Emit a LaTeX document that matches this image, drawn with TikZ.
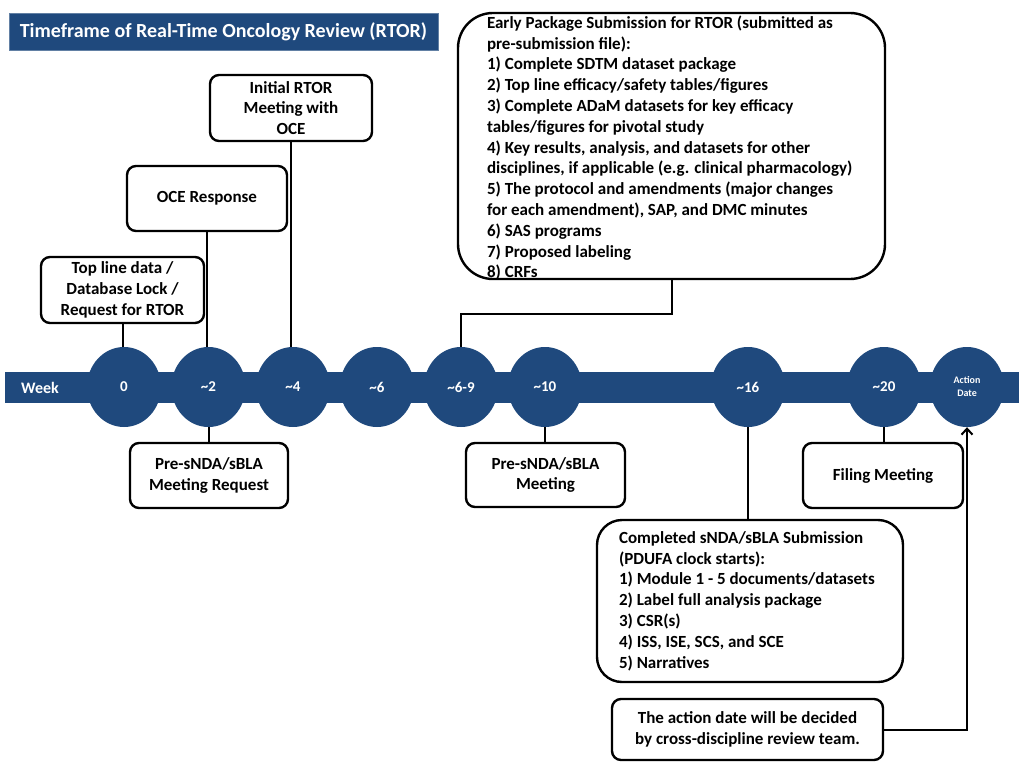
\documentclass[tikz,border=0pt]{standalone}
\usepackage{fontspec}
\setmainfont{Carlito}
\usetikzlibrary{shapes.geometric, arrows.meta, positioning}
\definecolor{RtorBlue}{HTML}{1F497D}

\begin{document}
\begin{tikzpicture}[x=1pt, y=-1pt,
    evbox/.style={draw=black, line width=2.4pt, rounded corners=9pt, fill=white,
                  align=center, inner sep=2pt, font=\bfseries\fontsize{17}{20.8}\selectfont},
    listtext/.style={align=left, inner sep=0pt, anchor=west,
                  font=\bfseries\fontsize{17}{20.8}\selectfont},
    weekdot/.style={ellipse, fill=RtorBlue, minimum width=74pt, minimum height=80pt,
                  inner sep=0pt, text=white, font=\bfseries\fontsize{15}{16}\selectfont},
    link/.style={draw=black, line width=2pt}]
    \useasboundingbox (0,0) rectangle (1019,762);

    % Title bar
    \node[fill=RtorBlue, draw=RtorBlue!70, minimum width=429pt, minimum height=37pt,
          text=white, font=\bfseries\fontsize{20}{22}\selectfont] (title) at (223.5,31.5)
          {Timeframe of Real-Time Oncology Review (RTOR)};

    % Week band and milestones
    \node[fill=RtorBlue, minimum width=1014pt, minimum height=31pt, inner sep=0pt] (band) at (512,387.5) {};
    \node[text=white, font=\bfseries\fontsize{16}{17}\selectfont] (week) at (40,388) {Week};
    \foreach \x/\name/\lbl in {124/wk0/0, 208.5/wk2/{\textasciitilde2}, 293/wk4/{\textasciitilde4},
                               377/wk6/{\textasciitilde6}, 461/wk69/{\textasciitilde6-9},
                               545/wk10/{\textasciitilde10}, 748/wk16/{\textasciitilde16},
                               884/wk20/{\textasciitilde20}}
        \node[weekdot] (\name) at (\x,387) {\lbl};
    \node[weekdot, align=center, font=\bfseries\fontsize{10}{13}\selectfont] (wkact) at (967,387) {Action\\Date};

    % Boxes above the band
    \node[evbox, minimum width=163pt, minimum height=66pt] (topline) at (122.5,290)
        {Top line data /\\Database Lock /\\Request for RTOR};
    \node[evbox, minimum width=160pt, minimum height=65pt] (oceresp) at (207,198.5)
        {OCE Response};
    \node[evbox, minimum width=162pt, minimum height=66pt] (initmeet) at (291,108)
        {Initial RTOR\\Meeting with\\OCE};
    \node[evbox, rounded corners=35pt, minimum width=427pt, minimum height=266pt] (early) at (671.5,146) {};
    \node[listtext] (earlytext) at ([xshift=30pt, yshift=-2pt]early.west) {%
        Early Package Submission for RTOR (submitted as\\
        pre-submission file):\\
        1) Complete SDTM dataset package\\
        2) Top line efficacy/safety tables/figures\\
        3) Complete ADaM datasets for key efficacy\\
        tables/figures for pivotal study\\
        4) Key results, analysis, and datasets for other\\
        disciplines, if applicable (e.g. clinical pharmacology)\\
        5) The protocol and amendments (major changes\\
        for each amendment), SAP, and DMC minutes\\
        6) SAS programs\\
        7) Proposed labeling\\
        8) CRFs};

    % Boxes below the band
    \node[evbox, minimum width=158pt, minimum height=65pt] (presreq) at (209,475.5)
        {Pre-sNDA/sBLA\\Meeting Request};
    \node[evbox, minimum width=159pt, minimum height=64pt] (presmeet) at (545.5,475)
        {Pre-sNDA/sBLA\\Meeting};
    \node[evbox, minimum width=160pt, minimum height=65pt] (filing) at (883,475.5)
        {Filing Meeting};
    \node[evbox, rounded corners=25pt, minimum width=306pt, minimum height=162pt] (completed) at (750,601) {};
    \node[listtext] (completedtext) at ([xshift=23pt]completed.west) {%
        Completed sNDA/sBLA Submission\\
        (PDUFA clock starts):\\
        1) Module 1 - 5 documents/datasets\\
        2) Label full analysis package\\
        3) CSR(s)\\
        4) ISS, ISE, SCS, and SCE\\
        5) Narratives};
    \node[evbox, minimum width=271pt, minimum height=61pt] (actionbox) at (747.5,729.5)
        {The action date will be decided\\by cross-discipline review team.};

    % Connectors
    \draw[link] (topline.south) -- (topline.south |- wk0.north);
    \draw[link] (oceresp.south) -- (oceresp.south |- wk2.north);
    \draw[link] (initmeet.south) -- (initmeet.south |- wk4.north);
    \draw[link] (early.south) -- ++(0,34) -| (wk69.north);
    \draw[link] (wk2.south) -- (wk2.south |- presreq.north);
    \draw[link] (wk10.south) -- (wk10.south |- presmeet.north);
    \draw[link] (wk16.south) -- (wk16.south |- completed.north);
    \draw[link] (wk20.south) -- (wk20.south |- filing.north);
    \draw[link, -{Straight Barb[length=6pt, width=11pt, line width=2pt]}]
        (actionbox.east) -| (wkact.south);
\end{tikzpicture}
\end{document}
